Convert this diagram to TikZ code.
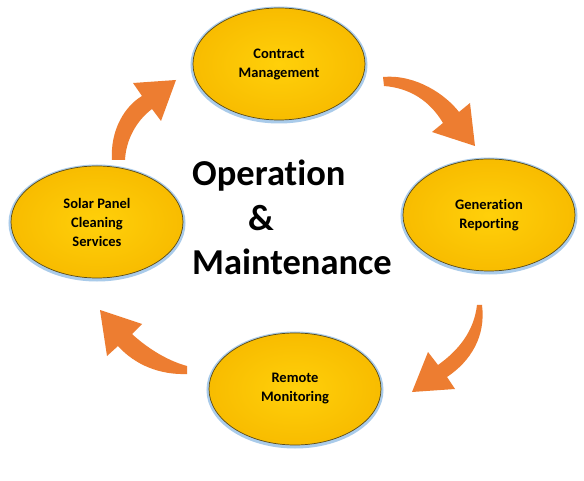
\documentclass[tikz,border=0pt]{standalone}
\usepackage{fontspec}
\setmainfont{Carlito}[Ligatures=NoCommon]
\usetikzlibrary{shapes.geometric}
\definecolor{arroworange}{HTML}{ED7D31}
\definecolor{goldin}{HTML}{FFD00A}
\definecolor{goldout}{HTML}{F8BC00}
\definecolor{glowblue}{HTML}{A9CBEA}
\definecolor{rimdark}{HTML}{5A4A18}
\tikzset{
  stage/.style={ellipse, minimum width=172pt, minimum height=112pt, inner sep=0pt,
    inner color=goldin, outer color=goldout, draw=rimdark, line width=0.7pt,
    font=\fontsize{14.5}{19}\selectfont\bfseries, align=center, text=black},
  glow/.style={ellipse, minimum width=172pt, minimum height=112pt, inner sep=0pt,
    draw=glowblue, line width=5pt},
  bigtext/.style={font=\fontsize{36.5}{42}\selectfont\bfseries, inner sep=0pt, text=black},
  flow/.style={fill=arroworange, draw=none}
}
\begin{document}
\begin{tikzpicture}[x=1pt,y=-1pt]
\useasboundingbox (0,0) rectangle (584,481);
\fill[white] (0,0) rectangle (584,481);
% glows
\node[glow] at (279,65) {};
\node[glow] at (97,223) {};
\node[glow] at (489,216) {};
\node[glow] at (295,390) {};
% stages
\node[stage] (cm) at (279,64) {Contract\\Management};
\node[stage] (sp) at (97,222) {Solar Panel\\Cleaning\\Services};
\node[stage] (gr) at (489,215) {Generation\\Reporting};
\node[stage] (rm) at (295,389) {Remote\\Monitoring};
% centre title
\node[bigtext, anchor=base west] (t1) at (192,186) {Operation};
\node[bigtext, anchor=base] (t2) at (261,231) {\&};
\node[bigtext, anchor=base west] (t3) at (192,275) {Maintenance};
% arrows
\fill[flow] (112,160) .. controls (110,130) and (125,106) .. (142,96)
  -- (133,83) -- (176,80) -- (161,121) -- (152,109)
  .. controls (136,121) and (126,140) .. (125,160) -- cycle;
\fill[flow] (383,77) .. controls (416,74) and (446,95) .. (459,112)
  -- (470,103) -- (475,146) -- (432,132) -- (443,123)
  .. controls (430,101) and (410,88) .. (384,86) -- cycle;
\fill[flow] (482,305) .. controls (486,336) and (471,361) .. (447,377)
  -- (455,389) -- (412,392) -- (428,352) -- (438,365)
  .. controls (459,350) and (474,331) .. (477,305) -- cycle;
\fill[flow] (187,366) .. controls (165,360) and (145,346) .. (132,334)
  -- (142,324) -- (100,310) -- (107,356) -- (118,346)
  .. controls (135,365) and (160,375) .. (187,374) -- cycle;
\end{tikzpicture}
\end{document}
